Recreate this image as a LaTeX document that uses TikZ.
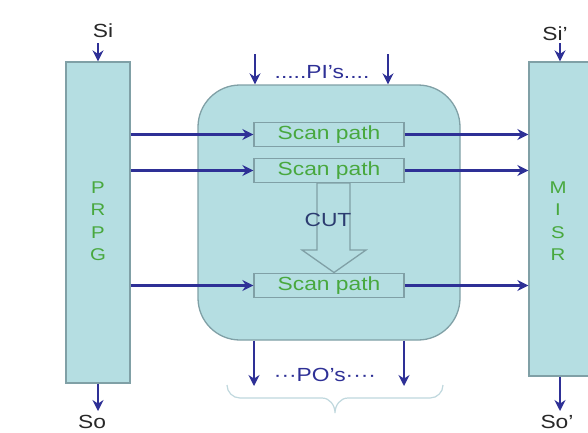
\documentclass[tikz,border=0pt]{standalone}
\usepackage{fontspec}
\setmainfont{Liberation Sans}
\newfontfamily\wide[FakeStretch=1.2]{Liberation Sans}
\usetikzlibrary{arrows.meta}
\definecolor{boxfill}{RGB}{181,222,226}
\definecolor{boxedge}{RGB}{128,160,166}
\definecolor{navy}{RGB}{46,48,150}
\definecolor{grn}{RGB}{72,168,62}
\definecolor{cutc}{RGB}{44,60,112}
\definecolor{lbl}{RGB}{40,40,40}
\definecolor{bracec}{RGB}{192,216,222}
\begin{document}
\begin{tikzpicture}[x=1pt,y=-1pt,
  reg/.style={draw=boxedge, fill=boxfill, line width=1.3pt, inner sep=0pt},
  block/.style={reg, rounded corners=42pt},
  scanbox/.style={reg, minimum width=150pt, minimum height=24pt,
    font=\wide\fontsize{19}{19}\selectfont, text=grn},
  stack/.style={align=center, text=grn,
    font=\wide\fontsize{17}{22.5}\selectfont},
  sig/.style={font=\wide\fontsize{19}{19}\selectfont, text=lbl, anchor=base},
  port/.style={font=\wide\fontsize{19}{19}\selectfont, text=navy},
  arr/.style={draw=navy, line width=2.6pt, -{Stealth[length=11pt,width=11pt]}},
  hollow/.style={draw=boxedge, fill=boxfill, line width=1.3pt, line join=miter},
  bracepath/.style={draw=bracec, line width=1.2pt}]
\useasboundingbox (0,0) rectangle (588,432);
\begin{scope}
\clip (0,0) rectangle (588,432);
\fill[white] (0,0) rectangle (588,432);

% circuit under test
\node[block, minimum width=262pt, minimum height=255pt] (cut) at (329,212.5) {};

% pattern generator and signature register
\node[reg, minimum width=64pt, minimum height=321pt] (prpg) at (98,222.5) {};
\node[stack] (prpgtxt) at (98,221) {P\\R\\P\\G};
\node[reg, minimum width=91pt, minimum height=314pt] (misr) at (574.5,219) {};
\node[stack] (misrtxt) at (558,221) {M\\I\\S\\R};

% scan chains
\node[scanbox] (sp1) at (329,134.5) {Scan path};
\node[scanbox] (sp2) at (329,170.5) {Scan path};
\node[scanbox] (sp3) at (329,285.5) {Scan path};

% hollow arrow through the logic
\draw[hollow] (317,183) -- (350,183) -- (350,250) -- (366,250)
  -- (334,272.5) -- (302,250) -- (317,250) -- cycle;
\node[font=\wide\fontsize{19}{19}\selectfont, text=cutc] (cutlbl) at (328,220) {CUT};

% scan-in / scan-out connections
\foreach \s in {sp1,sp2,sp3}{
  \draw[arr] (prpg.east |- \s.west) -- (\s.west);
  \draw[arr] (\s.east) -- (misr.west |- \s.east);
}

% serial inputs and outputs
\coordinate (siin) at (98,43);
\coordinate (soout) at (98,411);
\coordinate (siin2) at (560,43);
\coordinate (soout2) at (560,411);
\draw[arr] (siin) -- (siin |- prpg.north);
\draw[arr] (soout |- prpg.south) -- (soout);
\draw[arr] (siin2) -- (siin2 |- misr.north);
\draw[arr] (soout2 |- misr.south) -- (soout2);
\node[sig] (si) at (103,37) {Si};
\node[sig] (si2) at (555,40) {Si’};
\node[sig] (so) at (92,428) {So};
\node[sig] (so2) at (557,428) {So’};

% primary inputs
\coordinate (pi1) at (255,54);
\coordinate (pi2) at (388,54);
\draw[arr] (pi1) -- (pi1 |- cut.north);
\draw[arr] (pi2) -- (pi2 |- cut.north);
\node[port] (pilbl) at (322,72) {.....PI’s....};

% primary outputs
\coordinate (po1) at (254,386);
\coordinate (po2) at (404,386);
\draw[arr] (po1 |- cut.south) -- (po1);
\draw[arr] (po2 |- cut.south) -- (po2);
\node[port] (polbl) at (325,375) {···PO’s····};

% brace under the outputs
\draw[bracepath] (227,385)
  to[out=-90,in=180] (240,398) -- (322,398) to[out=0,in=90] (335,413)
  to[out=90,in=180] (348,398) -- (430,398) to[out=0,in=-90] (443,385);
\end{scope}
\end{tikzpicture}
\end{document}
